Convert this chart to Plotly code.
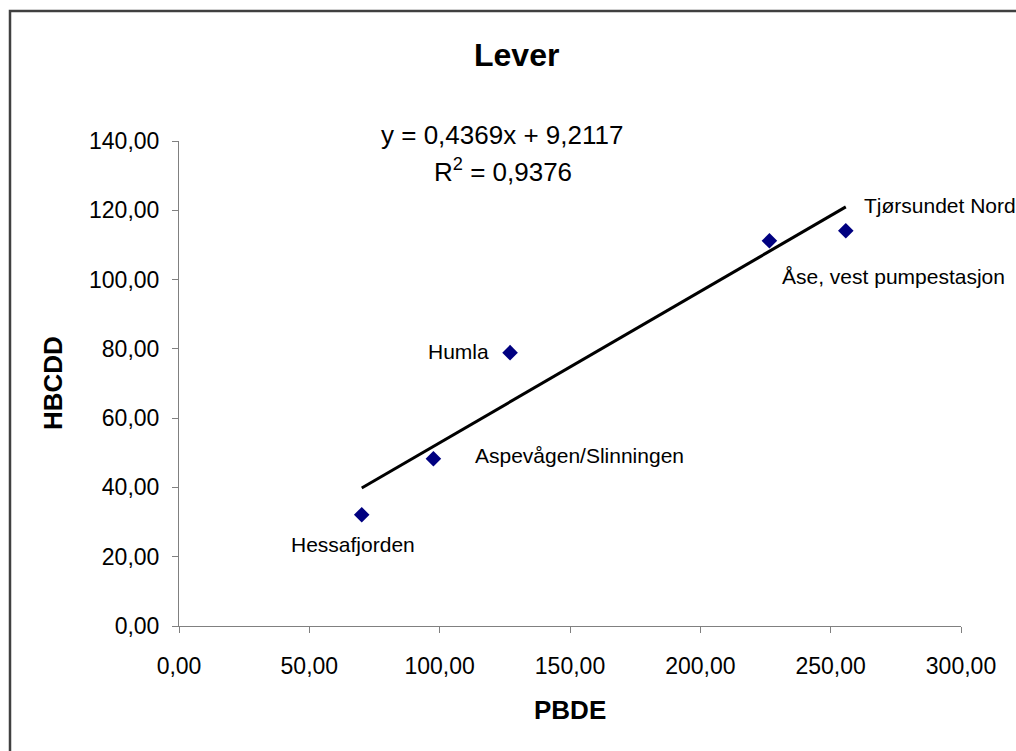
import plotly.graph_objects as go

# ---- data ----
sites = ["Hessafjorden", "Aspevågen/Slinningen", "Humla", "Åse, vest pumpestasjon", "Tjørsundet Nord"]
pbde = [70.1, 97.6, 127.0, 226.5, 255.8]
hbcdd = [32.1, 48.3, 78.9, 111.2, 114.1]
slope = 0.4369
intercept = 9.2117
r2 = 0.9376
x_ticks = [0, 50, 100, 150, 200, 250, 300]
y_ticks = [0, 20, 40, 60, 80, 100, 120, 140]

# ---- layout geometry (pixels) ----
W, H = 1016, 751
L, R, T, B = 179, 55, 141, 125
PW, PH = W - L - R, H - T - B

def px(xp):
    return (xp - L) / PW

def py(yp):
    return (H - B - yp) / PH

FONT = "Liberation Sans, Arial, sans-serif"

fig = go.Figure()

xline = [min(pbde), max(pbde)]
yline = [slope * v + intercept for v in xline]
fig.add_trace(go.Scatter(x=xline, y=yline, mode="lines",
                         line=dict(color="black", width=3), hoverinfo="skip"))
fig.add_trace(go.Scatter(x=pbde, y=hbcdd, mode="markers",
                         marker=dict(symbol="diamond", size=12, color="#000080",
                                     line=dict(width=0)),
                         text=sites))

# point labels: (xanchor, xshift, yshift)
label_pos = {
    "Hessafjorden": ("center", -9, -30),
    "Aspevågen/Slinningen": ("left", 40, 3),
    "Humla": ("right", -19, 1),
    "Åse, vest pumpestasjon": ("left", 11, -36),
    "Tjørsundet Nord": ("left", 16, 25),
}
for s, xv, yv in zip(sites, pbde, hbcdd):
    xa, xs, ys = label_pos[s]
    fig.add_annotation(x=xv, y=yv, xref="x", yref="y", text=s, showarrow=False,
                       xanchor=xa, yanchor="middle", xshift=xs, yshift=ys,
                       font=dict(family=FONT, size=21, color="black"))

eq_text = "y = " + f"{slope:.4f}".replace(".", ",") + "x + " + f"{intercept:.4f}".replace(".", ",")
r2_text = "R<sup>2</sup> = " + f"{r2:.4f}".replace(".", ",")
fig.add_annotation(x=px(502), y=py(135), xref="paper", yref="paper", text=eq_text,
                   showarrow=False, xanchor="center", yanchor="middle",
                   font=dict(family=FONT, size=26, color="black"))
fig.add_annotation(x=px(503), y=py(170), xref="paper", yref="paper", text=r2_text,
                   showarrow=False, xanchor="center", yanchor="middle",
                   font=dict(family=FONT, size=26, color="black"))

# title and axis titles
fig.add_annotation(x=px(516), y=py(55), xref="paper", yref="paper", text="<b>Lever</b>",
                   showarrow=False, xanchor="center", yanchor="middle",
                   font=dict(family=FONT, size=32, color="black"))
fig.add_annotation(x=px(570), y=py(710), xref="paper", yref="paper", text="<b>PBDE</b>",
                   showarrow=False, xanchor="center", yanchor="middle",
                   font=dict(family=FONT, size=26, color="black"))
fig.add_annotation(x=px(53), y=py(383), xref="paper", yref="paper", text="<b>HBCDD</b>",
                   showarrow=False, xanchor="center", yanchor="middle", textangle=-90,
                   font=dict(family=FONT, size=26, color="black"))

# chart border
fig.add_shape(type="rect", xref="paper", yref="paper",
              x0=px(10), x1=px(1030), y0=py(765), y1=py(11),
              line=dict(color="#404040", width=2.5), fillcolor="rgba(0,0,0,0)", layer="below")

axis_common = dict(showgrid=False, zeroline=False, showline=True, linecolor="#808080",
                   linewidth=1, ticks="outside", ticklen=6, tickcolor="#808080",
                   tickformat=".2f", tickfont=dict(family=FONT, size=23, color="black"))

fig.update_layout(
    width=W, height=H,
    margin=dict(l=L, r=R, t=T, b=B),
    paper_bgcolor="white", plot_bgcolor="white",
    showlegend=False,
    separators=", ",
    xaxis=dict(range=[0, 300], tickvals=x_ticks, ticklabelstandoff=13, **axis_common),
    yaxis=dict(range=[0, 140], tickvals=y_ticks, ticklabelstandoff=8, **axis_common),
)

fig.write_html("out.html", config={"displayModeBar": False},
               post_script="document.body.style.margin='0';document.body.style.overflow='hidden';")
